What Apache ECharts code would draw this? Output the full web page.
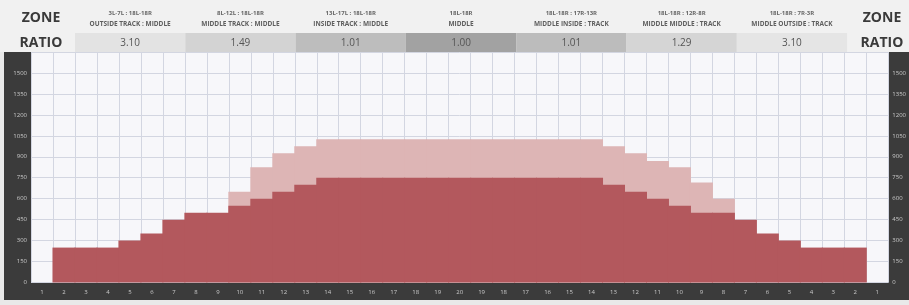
<!DOCTYPE html>
<html>
<head>
<meta charset="utf-8">
<script src="https://cdn.jsdelivr.net/npm/echarts@6/dist/echarts.min.js"></script>
<style>
html, body { margin: 0; padding: 0; background: #3b3b3b; }
#chartContainer { width: 909px; height: 305px; }
</style>
</head>
<body>
<div id="chartContainer"></div>
<script>
// column labels: 1..20 then back down to 1
const xLabels = ['1','2','3','4','5','6','7','8','9','10','11','12','13','14','15','16','17','18','19','20',
    '19','18','17','16','15','14','13','12','11','10','9','8','7','6','5','4','3','2','1'];

// dark red bars (track)
const trackValues = [0, 250, 250, 250, 300, 350, 450, 500, 500, 550, 600, 650, 700, 750, 750, 750, 750, 750, 750, 750,
    750, 750, 750, 750, 750, 750, 700, 650, 600, 550, 500, 500, 450, 350, 300, 250, 250, 250, 0];

// light pink bars (top of the pink band)
const totalValues = ['-', '-', '-', '-', '-', '-', '-', '-', '-', 650, 825, 925, 975, 1025, 1025, 1025, 1025, 1025, 1025, 1025,
    1025, 1025, 1025, 1025, 1025, 1025, 975, 925, 870, 825, 715, 600, '-', '-', '-', '-', '-', '-', '-'];

const zoneTop = ['3L-7L : 18L-18R', '8L-12L : 18L-18R', '13L-17L : 18L-18R', '18L-18R', '18L-18R : 17R-13R', '18L-18R : 12R-8R', '18L-18R : 7R-3R'];
const zoneBottom = ['OUTSIDE TRACK : MIDDLE', 'MIDDLE TRACK : MIDDLE', 'INSIDE TRACK : MIDDLE', 'MIDDLE', 'MIDDLE INSIDE : TRACK', 'MIDDLE MIDDLE : TRACK', 'MIDDLE OUTSIDE : TRACK'];
const ratios = ['3.10', '1.49', '1.01', '1.00', '1.01', '1.29', '3.10'];
const ratioShades = ['#e3e3e3', '#d3d3d3', '#bdbdbd', '#a2a2a2', '#bcbcbc', '#d5d5d5', '#e5e5e5'];

const FONT = '"Open Sans", "DejaVu Sans", sans-serif';
const DARK = '#b3585d';
const PINK = '#ddb5b5';

function txt(x, y, text, size, color, weight) {
    return {
        type: 'text', x: x, y: y, silent: true,
        style: {
            text: text, fill: color, font: (weight || 'normal') + ' ' + size + 'px ' + FONT,
            align: 'center', verticalAlign: 'middle', textAlign: 'center', textVerticalAlign: 'middle'
        }
    };
}

function buildHeader() {
    const els = [];
    els.push({ type: 'rect', silent: true, shape: { x: 0, y: 0, width: 909, height: 52 }, style: { fill: '#f1f1f1' } });
    els.push({ type: 'rect', silent: true, shape: { x: 0, y: 300, width: 909, height: 5 }, style: { fill: '#e9e9e9' } });
    els.push({ type: 'rect', silent: true, shape: { x: 0, y: 52, width: 4, height: 253 }, style: { fill: '#e9e9e9' } });
    const x0 = 75, w = 110.3;
    for (let i = 0; i < ratios.length; i++) {
        const cx = x0 + i * w + w / 2;
        els.push({ type: 'rect', silent: true, shape: { x: x0 + i * w, y: 33, width: w, height: 19 }, style: { fill: ratioShades[i] } });
        els.push(txt(cx, 13.5, zoneTop[i], 6, '#666', 'bold'));
        els.push(txt(cx, 24.5, zoneBottom[i], 6.5, '#5e5e5e', 'bold'));
        els.push(txt(cx, 43, ratios[i], 10, '#555', 'normal'));
    }
    els.push(txt(41, 18, 'ZONE', 14, '#3a3a3a', 'bold'));
    els.push(txt(41, 43, 'RATIO', 14, '#3a3a3a', 'bold'));
    els.push(txt(882, 18, 'ZONE', 14, '#3a3a3a', 'bold'));
    els.push(txt(882, 43, 'RATIO', 14, '#3a3a3a', 'bold'));
    return els;
}

const chart = echarts.init(document.getElementById('chartContainer'));

const gridLine = { color: '#d3d6e1', width: 1 };
const axisText = { color: '#c9c9c9', fontSize: 6, fontFamily: FONT };

chart.setOption({
    backgroundColor: '#3b3b3b',
    animation: false,
    // 39 columns x 22px = 858px wide
    grid: { left: 31, right: 20, top: 52, bottom: 22.5, show: true, backgroundColor: '#f7f7fa', borderWidth: 0 },
    graphic: { elements: buildHeader() },
    xAxis: {
        type: 'category', data: xLabels, boundaryGap: true,
        axisLine: { show: false }, axisTick: { show: false },
        axisLabel: Object.assign({ interval: 0, margin: 7 }, axisText),
        splitLine: { show: true, interval: 0, lineStyle: gridLine }
    },
    yAxis: [
        {
            type: 'value', min: 0, max: 1650, interval: 150, position: 'left',
            axisLine: { show: false }, axisTick: { show: false },
            axisLabel: Object.assign({ margin: 4, formatter: v => v === 1650 ? '' : v }, axisText),
            splitLine: { show: true, lineStyle: gridLine }
        },
        {
            type: 'value', min: 0, max: 1650, interval: 150, position: 'right',
            axisLine: { show: false }, axisTick: { show: false },
            axisLabel: Object.assign({ margin: 4, formatter: v => v === 1650 ? '' : v }, axisText),
            splitLine: { show: false }
        }
    ],
    series: [
        {
            // bars a touch wider than the 22px band so neighbours close up without seams
            name: 'Middle', type: 'bar', data: totalValues, barWidth: 23, barGap: '-100%',
            itemStyle: { color: PINK }, z: 2
        },
        {
            name: 'Track', type: 'bar', data: trackValues, barWidth: 23, barGap: '-100%',
            itemStyle: { color: DARK }, z: 3
        }
    ]
});

window.addEventListener('resize', function() {
    chart.resize();
});
</script>
</body>
</html>
